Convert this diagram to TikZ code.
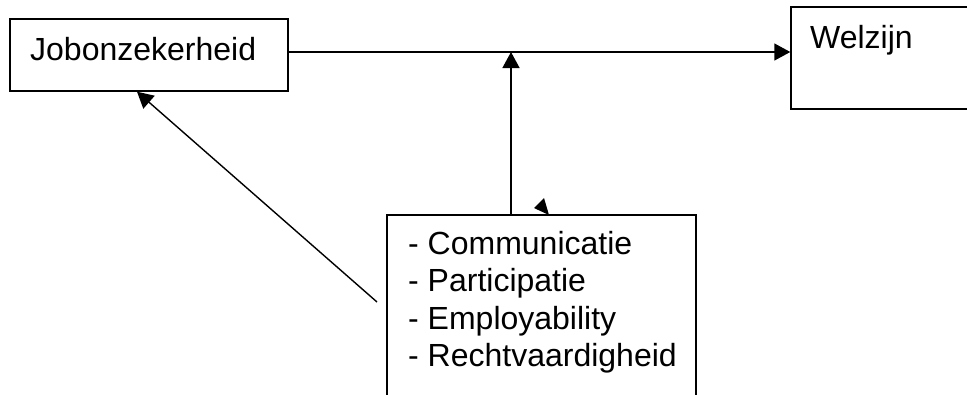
\documentclass[tikz,border=0pt]{standalone}
\usepackage{fontspec}
\setmainfont{Liberation Sans}
\usetikzlibrary{arrows.meta}
\begin{document}
\begin{tikzpicture}[x=1pt,y=-1pt,
  box/.style={draw=black,line width=1.4pt,inner sep=0pt,fill=white},
  lbl/.style={inner sep=0pt,anchor=base west,font=\fontsize{32}{38}\selectfont},
  arr/.style={line width=1.4pt,-{Triangle[length=16pt,width=17pt]}}]
\fill[white] (0,0) rectangle (967,394);
\clip (0,0) rectangle (967,394);
% boxes
\node[box,minimum width=278pt,minimum height=72pt] (job) at (149,55) {};
\node[box,minimum width=200pt,minimum height=102pt] (wel) at (891,58) {};
\node[box,minimum width=309pt,minimum height=220pt] (fac) at (541.5,325) {};
% texts
\node[lbl] (jobt) at (30,60) {Jobonzekerheid};
\node[lbl] (welt) at (810,48) {Welzijn};
\node[lbl,align=left,anchor=north west,font=\fontsize{32}{37.5}\selectfont] (fact) at (408,231)
  {- Communicatie\\- Participatie\\- Employability\\- Rechtvaardigheid};
% connectors
\coordinate (m) at (511,52);
\coordinate (d) at (377,302);
\draw[arr] ([yshift=3pt]job.east) -- ([yshift=6pt]wel.west);
\draw[arr] (fac.north -| m) -- (m);
\draw[arr] (d) -- ([xshift=-12pt]job.south);
% small stray arrowhead
\coordinate (t1) at (549,215);
\coordinate (t2) at (544,198);
\coordinate (t3) at (534,208);
\fill (t1) -- (t2) -- (t3) -- cycle;
\end{tikzpicture}
\end{document}
